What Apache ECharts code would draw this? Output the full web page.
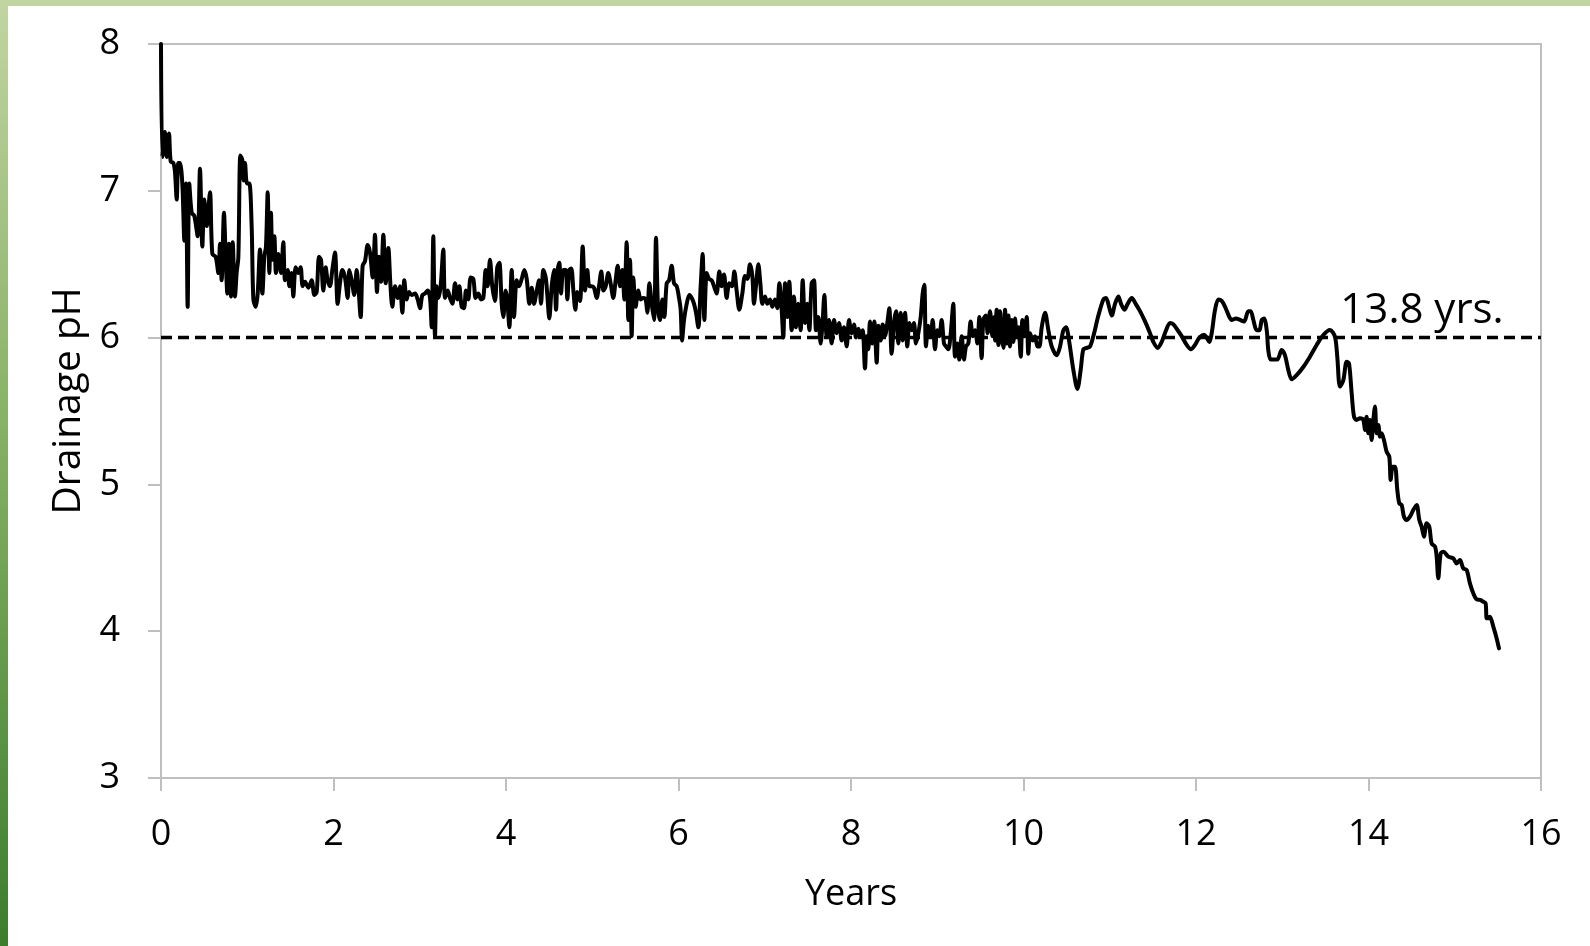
<!DOCTYPE html>
<html><head><meta charset="utf-8">
<script src="https://cdn.jsdelivr.net/npm/echarts@6/dist/echarts.min.js"></script>
<style>
html,body{margin:0;padding:0;background:#fff;}
#wrap{position:relative;width:1590px;height:946px;overflow:hidden;background:#fff;}
#chart{position:absolute;left:0;top:0;width:1590px;height:946px;}
#topbar{position:absolute;left:0;top:0;width:1590px;height:6px;background:#c1d5a0;}
#leftbar{position:absolute;left:0;top:0;width:8px;height:946px;background:linear-gradient(#c1d5a0,#86b166 45%,#3b7e2d);}
</style></head>
<body><div id="wrap"><div id="chart"></div><div id="topbar"></div><div id="leftbar"></div></div>
<script>
// [years, drainage pH] readings, in segments
var seg1 = [[0,8.00],[0.015,7.23],[0.046,7.40],[0.066,7.23],[0.093,7.39],[0.112,7.20],[0.143,7.19],[0.162,7.13],[0.182,6.94],[0.201,7.19],[0.220,7.19],[0.247,7.05],[0.271,6.66],[0.290,7.05],[0.309,6.21],[0.328,7.05],[0.356,6.85],[0.386,6.83],[0.425,6.69],[0.452,7.15],[0.479,6.62],[0.502,6.94],[0.530,6.76],[0.568,6.99],[0.595,6.57],[0.634,6.55],[0.665,6.44],[0.684,6.64],[0.703,6.39],[0.730,6.85],[0.750,6.55],[0.769,6.30],[0.788,6.64],[0.812,6.28],[0.831,6.65],[0.858,6.28],[0.877,6.44],[0.897,6.55],[0.920,7.24],[0.943,7.21],[0.959,7.07],[0.974,7.19],[0.997,7.05],[1.024,7.05],[1.051,6.76],[1.071,6.26],[1.098,6.21],[1.121,6.30],[1.148,6.60],[1.175,6.30],[1.198,6.55],[1.217,6.62],[1.237,6.99],[1.256,6.44],[1.275,6.85],[1.291,6.53],[1.314,6.69],[1.333,6.44],[1.360,6.57],[1.391,6.44],[1.418,6.65],[1.438,6.39],[1.469,6.46],[1.488,6.35],[1.515,6.44],[1.534,6.28],[1.561,6.48],[1.592,6.44],[1.619,6.48],[1.642,6.35]];
var seg2 = [[1.670,6.38],[1.708,6.34],[1.747,6.39],[1.778,6.29],[1.805,6.31],[1.832,6.55],[1.855,6.53],[1.882,6.32],[1.909,6.48],[1.932,6.39],[1.959,6.35],[1.986,6.46],[2.017,6.58],[2.048,6.23],[2.075,6.37],[2.102,6.46],[2.133,6.41],[2.164,6.27],[2.184,6.46],[2.211,6.39],[2.241,6.29],[2.269,6.46],[2.288,6.35],[2.315,6.14],[2.338,6.49],[2.365,6.52],[2.396,6.63],[2.423,6.58],[2.454,6.41],[2.481,6.70],[2.504,6.31],[2.527,6.55],[2.551,6.38],[2.578,6.70],[2.605,6.37],[2.636,6.61],[2.659,6.37],[2.682,6.21],[2.713,6.35],[2.744,6.27],[2.771,6.35],[2.798,6.17],[2.821,6.39],[2.848,6.26],[2.875,6.31],[2.906,6.29],[2.945,6.30],[2.976,6.26],[3.003,6.20],[3.030,6.29],[3.061,6.30],[3.092,6.32],[3.119,6.27],[3.138,6.07],[3.157,6.69],[3.177,6.01],[3.196,6.35],[3.215,6.27],[3.242,6.35],[3.273,6.60],[3.293,6.27],[3.324,6.32],[3.351,6.27],[3.378,6.23],[3.409,6.37],[3.436,6.26],[3.459,6.35],[3.486,6.21],[3.513,6.20],[3.536,6.32],[3.563,6.26],[3.590,6.41],[3.621,6.40],[3.648,6.27],[3.679,6.30],[3.710,6.26],[3.737,6.27],[3.764,6.46],[3.787,6.35],[3.814,6.53],[3.841,6.35],[3.872,6.25]];
var seg3 = [[3.899,6.48],[3.923,6.51],[3.950,6.23],[3.969,6.14],[3.996,6.32],[4.015,6.26],[4.039,6.07],[4.066,6.46],[4.093,6.14],[4.124,6.39],[4.151,6.35],[4.182,6.40],[4.213,6.46],[4.240,6.40],[4.271,6.23],[4.298,6.34],[4.325,6.23],[4.356,6.32],[4.383,6.39],[4.406,6.23],[4.433,6.46],[4.460,6.41],[4.479,6.29],[4.502,6.13],[4.530,6.35],[4.557,6.46],[4.580,6.19],[4.599,6.46],[4.618,6.51],[4.638,6.30],[4.665,6.46],[4.692,6.46],[4.711,6.26],[4.734,6.46],[4.757,6.47],[4.781,6.32],[4.804,6.19],[4.827,6.31],[4.858,6.25],[4.889,6.62],[4.916,6.32],[4.943,6.46],[4.966,6.35],[4.993,6.35],[5.020,6.34],[5.051,6.27],[5.078,6.35],[5.105,6.45],[5.129,6.32],[5.156,6.35],[5.186,6.44],[5.213,6.37],[5.244,6.27],[5.271,6.39],[5.295,6.49],[5.322,6.35],[5.349,6.46],[5.372,6.26],[5.399,6.65],[5.418,6.12],[5.438,6.53],[5.457,6.01],[5.476,6.41],[5.503,6.21],[5.534,6.32],[5.561,6.26],[5.592,6.27],[5.619,6.26],[5.639,6.17],[5.662,6.37],[5.689,6.23],[5.716,6.12],[5.739,6.68],[5.762,6.21],[5.786,6.12],[5.813,6.26],[5.836,6.14],[5.863,6.37],[5.890,6.39],[5.921,6.49],[5.948,6.37],[5.979,6.35],[6.006,6.27],[6.025,6.19],[6.041,5.98],[6.064,6.12],[6.095,6.23],[6.126,6.29],[6.153,6.27],[6.180,6.23],[6.203,6.17],[6.230,6.07],[6.257,6.35],[6.280,6.57],[6.300,6.12],[6.327,6.44],[6.354,6.40],[6.385,6.39],[6.412,6.35],[6.442,6.30],[6.473,6.45],[6.500,6.35],[6.528,6.43],[6.558,6.27],[6.589,6.37],[6.620,6.35],[6.647,6.45],[6.674,6.32],[6.705,6.19]];
var seg4 = [[6.740,6.30],[6.771,6.42],[6.798,6.40],[6.829,6.50],[6.856,6.42],[6.875,6.23],[6.898,6.35],[6.926,6.50],[6.949,6.37],[6.972,6.23],[7.003,6.28],[7.030,6.23],[7.061,6.26],[7.088,6.21],[7.119,6.26],[7.146,6.20],[7.169,6.37],[7.196,6.19],[7.215,6.00],[7.235,6.37],[7.262,6.14],[7.285,6.38],[7.312,6.05],[7.339,6.28],[7.362,6.07],[7.389,6.23],[7.416,6.05],[7.440,6.39],[7.467,6.10],[7.494,6.23],[7.517,6.05],[7.544,6.37],[7.571,6.39],[7.594,6.05],[7.621,6.14],[7.648,5.96],[7.671,6.11],[7.691,6.29],[7.718,6.01],[7.745,6.12],[7.776,5.96],[7.803,6.12],[7.834,6.03],[7.861,6.10],[7.892,5.98],[7.919,6.07],[7.950,5.94],[7.977,6.12],[8.008,6.03],[8.035,6.09],[8.058,6.00],[8.085,6.06],[8.112,6.01],[8.135,6.05],[8.162,5.79],[8.182,6.01],[8.201,5.92],[8.220,6.11],[8.247,5.96],[8.270,6.11],[8.298,5.83],[8.317,6.08],[8.344,5.98],[8.367,6.09],[8.394,6.01],[8.421,6.10],[8.444,6.20],[8.471,5.89],[8.498,6.10],[8.522,6.18],[8.549,5.96],[8.576,6.17],[8.599,5.98],[8.626,6.17],[8.653,5.94],[8.676,6.10],[8.703,6.05],[8.730,6.10],[8.753,5.96],[8.781,6.03],[8.808,6.14],[8.831,6.30],[8.850,6.36],[8.869,5.94],[8.896,6.08],[8.923,6.01],[8.947,6.12],[8.974,5.92],[9.001,6.05],[9.024,6.01],[9.051,6.12],[9.078,5.96],[9.101,5.94],[9.128,5.92],[9.155,6.02],[9.186,6.23],[9.206,5.87],[9.233,5.96],[9.256,5.85],[9.283,6.01],[9.310,5.85],[9.333,5.94],[9.360,5.96],[9.387,6.11],[9.411,6.01],[9.438,6.05],[9.465,5.96],[9.488,6.14],[9.515,5.86],[9.534,6.12],[9.561,6.15],[9.584,6.03],[9.612,6.18],[9.639,6.01],[9.662,6.14]];
var seg5 = [[9.670,5.98],[9.689,6.19],[9.709,5.95],[9.728,6.18],[9.747,6.01],[9.767,5.93],[9.786,6.19],[9.805,5.96],[9.825,6.15],[9.844,5.94],[9.863,6.12],[9.883,5.97],[9.902,6.13],[9.921,6.01],[9.941,6.07],[9.968,5.87],[9.987,6.12],[10.010,6.01],[10.037,6.14],[10.056,5.89],[10.076,6.03],[10.107,5.98],[10.134,6.01],[10.161,5.94],[10.184,5.94],[10.211,6.07],[10.250,6.17],[10.288,6.05],[10.327,5.94],[10.385,5.88],[10.424,5.94],[10.462,6.05],[10.493,6.07],[10.528,5.98],[10.578,5.78],[10.625,5.65],[10.663,5.78],[10.694,5.92],[10.733,5.93],[10.771,5.94],[10.810,6.01],[10.868,6.15],[10.926,6.26],[10.957,6.27],[10.996,6.20],[11.023,6.15],[11.061,6.23],[11.100,6.28],[11.131,6.23],[11.170,6.19],[11.208,6.23],[11.255,6.27],[11.301,6.23],[11.351,6.18],[11.409,6.11],[11.467,6.03],[11.506,5.97],[11.556,5.93],[11.602,5.97],[11.653,6.05],[11.699,6.10],[11.738,6.09],[11.788,6.05],[11.834,6.01],[11.892,5.95],[11.942,5.92],[11.989,5.95],[12.039,6.00],[12.093,6.02],[12.124,6.00],[12.155,5.97],[12.182,6.03],[12.221,6.19],[12.259,6.26],[12.298,6.25],[12.337,6.21],[12.387,6.14],[12.414,6.12],[12.464,6.13],[12.511,6.12],[12.557,6.11],[12.607,6.18],[12.634,6.18],[12.665,6.12],[12.704,6.05],[12.735,6.05],[12.762,6.12],[12.789,6.13],[12.820,6.05]];
var seg6 = [[12.838,5.915],[12.865,5.85],[12.904,5.85],[12.943,5.85],[12.993,5.915],[13.031,5.88],[13.070,5.78],[13.109,5.716],[13.167,5.745],[13.244,5.80],[13.321,5.87],[13.399,5.95],[13.476,6.018],[13.553,6.052],[13.611,6.006],[13.638,5.87],[13.669,5.666],[13.708,5.71],[13.747,5.836],[13.774,5.825],[13.805,5.62],[13.832,5.461],[13.862,5.439],[13.901,5.45],[13.940,5.439],[13.959,5.37],[13.978,5.46],[13.998,5.348],[14.017,5.439],[14.036,5.302],[14.056,5.439],[14.075,5.53],[14.094,5.348],[14.114,5.405],[14.133,5.325],[14.152,5.348],[14.179,5.302],[14.210,5.223],[14.241,5.189],[14.257,5.03],[14.280,5.121],[14.307,5.121],[14.334,4.962],[14.357,4.871],[14.384,4.86],[14.411,4.78],[14.442,4.757],[14.481,4.78],[14.519,4.826],[14.558,4.86],[14.589,4.757],[14.616,4.712],[14.643,4.644],[14.674,4.735],[14.705,4.712],[14.732,4.598],[14.771,4.576],[14.790,4.508],[14.809,4.36],[14.837,4.53],[14.868,4.542],[14.925,4.508],[14.983,4.496],[15.022,4.462],[15.060,4.485],[15.099,4.428],[15.138,4.417],[15.176,4.326],[15.215,4.258],[15.254,4.217],[15.293,4.213],[15.331,4.201],[15.358,4.19],[15.370,4.088],[15.389,4.088],[15.408,4.099],[15.447,4.031],[15.486,3.951],[15.513,3.883]];

var thresholdLine = [[0,6],[16,6]];
var annotationText = '13.8 yrs.';
var annotationPos = [[14.62, 6.18]];
var xTicks = {min:0, max:16, interval:2};
var yTicks = {min:3, max:8, interval:1};
var xTitle = 'Years';
var yTitle = 'Drainage pH';

var phData = [].concat(seg1, seg2, seg3, seg4, seg5, seg6);

var FONT = 'Open Sans';
var TXT = '#000000';
var AX = '#bfbfbf';

var chart = echarts.init(document.getElementById('chart'), null, {renderer:'canvas'});
chart.setOption({
  animation:false,
  backgroundColor:'#ffffff',
  grid:{left:161,right:49,top:44,bottom:168,show:true,borderColor:AX,borderWidth:2,backgroundColor:'transparent'},
  xAxis:{type:'value',min:xTicks.min,max:xTicks.max,interval:xTicks.interval,
    name:xTitle,nameLocation:'middle',nameGap:99,
    nameTextStyle:{fontFamily:FONT,fontSize:36,color:TXT},
    axisLine:{show:true,onZero:false,lineStyle:{color:AX,width:2}},
    axisTick:{show:true,inside:false,length:13,lineStyle:{color:AX,width:2}},
    axisLabel:{show:true,margin:39,fontFamily:FONT,fontSize:36,color:TXT},
    splitLine:{show:false}},
  yAxis:{type:'value',min:yTicks.min,max:yTicks.max,interval:yTicks.interval,
    name:yTitle,nameLocation:'middle',nameGap:71,nameRotate:90,
    nameTextStyle:{fontFamily:FONT,fontSize:39,color:TXT,padding:[0,0,0,20]},
    axisLine:{show:true,onZero:false,lineStyle:{color:AX,width:2}},
    axisTick:{show:true,inside:false,length:13,lineStyle:{color:AX,width:2}},
    axisLabel:{show:true,margin:41,fontFamily:FONT,fontSize:36,color:TXT,padding:[10,0,0,0]},
    splitLine:{show:false}},
  series:[
    {type:'line',name:'threshold',data:thresholdLine,showSymbol:false,symbol:'none',silent:true,
     lineStyle:{color:'#000',width:3.5,type:[11,6],opacity:1},z:2},
    {type:'line',name:'pH',data:phData,showSymbol:false,symbol:'none',smooth:0.3,silent:true,
     lineStyle:{color:'#000',width:4,join:'round',cap:'round',opacity:1},z:3},
    {type:'scatter',name:'note',data:annotationPos,symbolSize:0,silent:true,
     itemStyle:{opacity:1,color:'#000'},
     label:{show:true,position:'inside',formatter:function(){return annotationText;},
       fontFamily:FONT,fontSize:42,color:TXT,opacity:1},z:4}
  ]
});
</script>
</body></html>
